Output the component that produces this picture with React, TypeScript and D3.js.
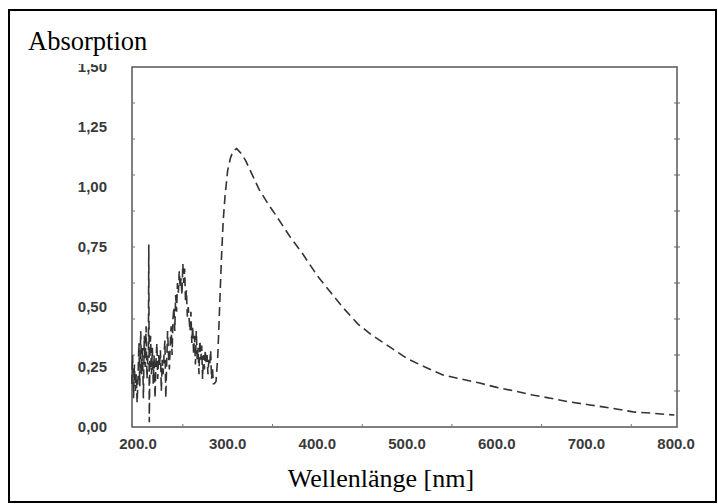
import { useEffect, useRef } from "react"
import * as d3 from "d3"

// wavelength in nm (noisy UV part, then the smooth band)
const wavelength = [
  193, 194, 195, 196, 197, 198, 199, 200, 201, 202, 203, 204, 205, 206, 207, 208, 209, 210, 211,
  211.6, 212, 212.6, 213.2, 214, 215, 216, 217, 218, 219, 220, 221, 222, 223, 224, 225, 226, 227,
  228, 229, 230, 231, 232, 233, 234, 235, 236, 237, 238, 239, 240, 241, 242, 243, 244, 245, 246,
  247, 248, 249, 250, 251, 252, 253, 254, 255, 256, 257, 258, 259, 260, 261, 262, 263, 264, 265,
  266, 267, 268, 269, 270, 271, 272, 273, 274, 275, 276, 277, 278, 279, 280, 281, 282, 283, 284,
  285, 287, 289, 291, 293, 295, 297, 300, 303, 306, 310, 315, 320, 325, 335, 345, 355, 370, 383,
  400, 415, 428, 445, 460, 481, 500, 520, 540, 560, 581, 600, 620, 640, 660, 680, 704, 730, 752,
  775, 798,
]

const absorbance = [
  0.18, 0.3, 0.12, 0.26, 0.15, 0.22, 0.1, 0.2, 0.35, 0.17, 0.4, 0.22, 0.33, 0.12, 0.38, 0.25, 0.42, 0.2, 0.3,
  0.32, 0.76, 0.02, 0.28, 0.38, 0.22, 0.33, 0.18, 0.3, 0.12, 0.27, 0.35, 0.2, 0.3, 0.25, 0.32, 0.15, 0.28,
  0.22, 0.3, 0.36, 0.12, 0.27, 0.4, 0.3, 0.24, 0.35, 0.42, 0.3, 0.45, 0.5, 0.4, 0.55, 0.48, 0.6, 0.56, 0.65,
  0.58, 0.62, 0.55, 0.68, 0.6, 0.66, 0.52, 0.57, 0.46, 0.5, 0.45, 0.4, 0.48, 0.35, 0.42, 0.3, 0.38, 0.26, 0.4,
  0.28, 0.33, 0.22, 0.36, 0.28, 0.34, 0.2, 0.3, 0.24, 0.32, 0.27, 0.3, 0.22, 0.28, 0.26, 0.32, 0.2, 0.25, 0.18,
  0.18, 0.19, 0.3, 0.5, 0.7, 0.86, 0.96, 1.07, 1.12, 1.15, 1.16, 1.14, 1.11, 1.07, 0.99, 0.93, 0.875, 0.79, 0.725,
  0.63, 0.56, 0.5, 0.43, 0.385, 0.333, 0.285, 0.25, 0.217, 0.2, 0.183, 0.165, 0.15, 0.133, 0.12, 0.105, 0.092, 0.077, 0.063,
  0.057, 0.05,
]

const xTicks = [200, 300, 400, 500, 600, 700, 800]
const xTickLabels = ["200.0", "300.0", "400.0", "500.0", "600.0", "700.0", "800.0"]
const yTicks = [0, 0.25, 0.5, 0.75, 1.0, 1.25, 1.5]
const yTickLabels = ["0,00", "0,25", "0,50", "0,75", "1,00", "1,25", "1,50"]
const minorY = [0.15, 0.3, 0.45, 0.6, 0.75, 0.9, 1.05, 1.2, 1.35]
const minorX = [250, 350, 450, 550, 650, 750]

const W = 718
const H = 504
const margin = { top: 67, right: 41, bottom: 77, left: 132 }

export default function App() {
  const svgRef = useRef<SVGSVGElement>(null)

  useEffect(() => {
    const svg = d3.select(svgRef.current)
    svg.selectAll("*").remove()

    const x = d3.scaleLinear().domain([193.3, 801]).range([margin.left, W - margin.right])
    const y = d3.scaleLinear().domain([0, 1.5]).range([H - margin.bottom, margin.top])

    // the scanned chart is cut off just above its top frame
    svg
      .append("defs")
      .append("clipPath")
      .attr("id", "scan")
      .append("rect")
      .attr("x", 0)
      .attr("y", 64)
      .attr("width", W)
      .attr("height", H - 64)

    const g = svg.append("g").attr("clip-path", "url(#scan)")

    // plot frame
    g.append("rect")
      .attr("x", x.range()[0])
      .attr("y", y.range()[1])
      .attr("width", x.range()[1] - x.range()[0])
      .attr("height", y.range()[0] - y.range()[1])
      .attr("fill", "none")
      .attr("stroke", "#555")
      .attr("stroke-width", 1.5)

    // small inner ticks
    g.selectAll(".ly")
      .data(minorY)
      .enter()
      .append("line")
      .attr("x1", x.range()[0])
      .attr("x2", x.range()[0] + 3)
      .attr("y1", (d) => y(d))
      .attr("y2", (d) => y(d))
      .attr("stroke", "#777")
    g.selectAll(".ry")
      .data(minorY)
      .enter()
      .append("line")
      .attr("x1", x.range()[1] - 3)
      .attr("x2", x.range()[1] + 3)
      .attr("y1", (d) => y(d))
      .attr("y2", (d) => y(d))
      .attr("stroke", "#666")
    g.selectAll(".bx")
      .data(minorX)
      .enter()
      .append("line")
      .attr("x1", (d) => x(d))
      .attr("x2", (d) => x(d))
      .attr("y1", y.range()[0])
      .attr("y2", y.range()[0] - 3)
      .attr("stroke", "#777")

    // tick labels
    g.selectAll(".yl")
      .data(yTicks)
      .enter()
      .append("text")
      .attr("x", 107)
      .attr("y", (d) => y(d))
      .attr("dy", "0.36em")
      .attr("text-anchor", "end")
      .style("font-family", "'Liberation Sans', Arial, sans-serif")
      .style("font-weight", "bold")
      .style("font-size", "15px")
      .attr("fill", "#3a3a3a")
      .text((d, i) => yTickLabels[i])

    g.selectAll(".xl")
      .data(xTicks)
      .enter()
      .append("text")
      .attr("x", (d) => x(d))
      .attr("y", 449)
      .attr("text-anchor", "middle")
      .style("font-family", "'Liberation Sans', Arial, sans-serif")
      .style("font-weight", "bold")
      .style("font-size", "15px")
      .attr("fill", "#3a3a3a")
      .text((d, i) => xTickLabels[i])

    // spectrum
    const pts = wavelength.map((w, i) => [w, absorbance[i]] as [number, number])
    const line = d3
      .line<[number, number]>()
      .x((d) => x(d[0]))
      .y((d) => y(d[1]))

    g.append("path")
      .datum(pts)
      .attr("fill", "none")
      .attr("stroke", "#333")
      .attr("stroke-width", 1.6)
      .attr("stroke-dasharray", "9,5")
      .attr("d", line)

    // outer frame
    svg
      .append("rect")
      .attr("x", 9)
      .attr("y", 10)
      .attr("width", 707)
      .attr("height", 492)
      .attr("fill", "none")
      .attr("stroke", "#000")
      .attr("stroke-width", 2)

    svg
      .append("text")
      .attr("x", 28)
      .attr("y", 50)
      .style("font-family", "'Liberation Serif', 'Times New Roman', serif")
      .style("font-size", "26.5px")
      .attr("fill", "#000")
      .text("Absorption")

    svg
      .append("text")
      .attr("x", 381)
      .attr("y", 487)
      .attr("text-anchor", "middle")
      .style("font-family", "'Liberation Serif', 'Times New Roman', serif")
      .style("font-size", "26px")
      .attr("fill", "#000")
      .text("Wellenlänge [nm]")
  }, [])

  return (
    <svg
      ref={svgRef}
      width={W}
      height={H}
      style={{ position: "absolute", left: 0, top: 0, background: "#fff" }}
    />
  )
}
